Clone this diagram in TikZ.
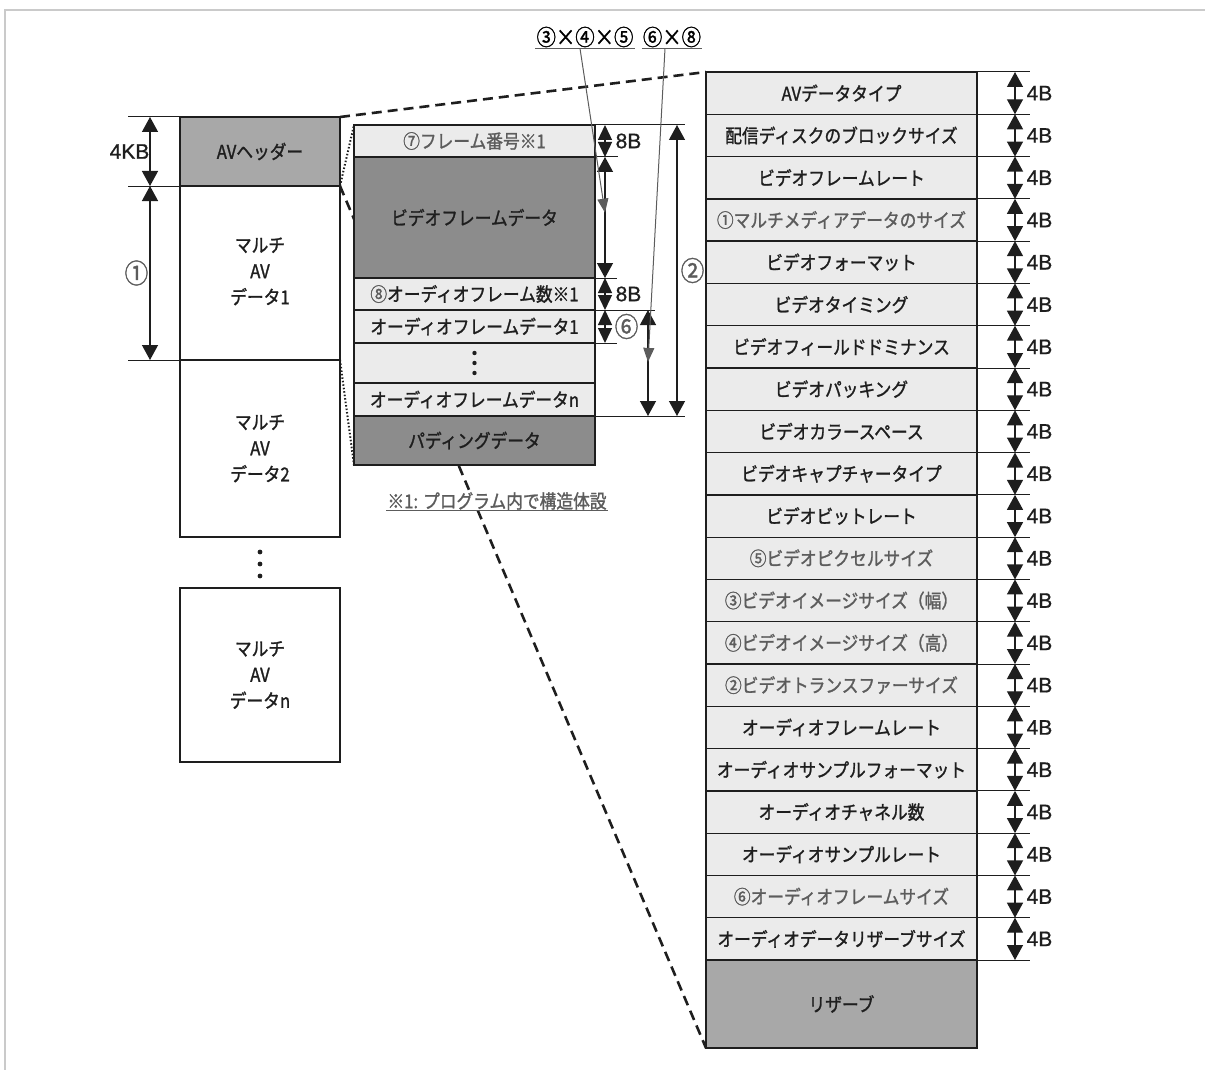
\documentclass[tikz,border=0pt]{standalone}
\usepackage{fontspec}
\setmainfont{Noto Sans CJK JP}[FakeStretch=0.88, FakeBold=1.3]
\newfontfamily\dimfont{Liberation Sans}[FakeBold=0.8]
\usetikzlibrary{arrows.meta, positioning, calc, backgrounds}
\definecolor{avInk}{HTML}{1E1E1E}
\definecolor{avDark}{HTML}{8C8C8C}
\definecolor{avMid}{HTML}{A8A8A8}
\definecolor{avLight}{HTML}{EBEBEB}
\definecolor{avNote}{HTML}{5C5C5C}
\definecolor{avFrame}{HTML}{CACACA}

\tikzset{
  blockbox/.style={draw=avInk, line width=1.3pt, rectangle, inner sep=0pt, outer sep=0pt,
    align=center, text=avInk, minimum width=#1},
  blockbox/.default=241pt,
  fieldbox/.style={blockbox=271pt, fill=avLight, minimum height=42.286pt, anchor=center},
  extline/.style={avInk, line width=1pt},
  dimtip/.style={{Triangle[length=15pt,width=16pt]}-{Triangle[length=15pt,width=16pt]}, avInk, line width=1.3pt},
  diamtip/.style={{Triangle[length=15pt,width=14pt]}-{Triangle[length=15pt,width=14pt]}, avInk, line width=1.3pt},
  pointer/.style={-{Triangle[length=14pt,width=11pt]}, avNote, line width=1pt},
  ulin/.style={avNote, line width=1pt},
  zoomline/.style={avInk, line width=2.6pt, dash pattern=on 10pt off 6pt},
  tieline/.style={avInk, line width=2pt, dash pattern=on 1.5pt off 2pt},
  dimlabel/.style={inner sep=0pt, font=\dimfont\fontsize{21}{21}\selectfont, text=avInk},
  numlabel/.style={inner sep=0pt, font=\fontsize{27}{27}\selectfont, text=avNote}
}

\begin{document}
\begin{tikzpicture}[x=1pt, y=-1pt, font=\fontsize{19}{26}\selectfont]
  \useasboundingbox (0,0) rectangle (1205,1070);
  \draw[avFrame, line width=2pt] (5,1070) -- (5,10) -- (1205,10);

  % left column
  \node[blockbox=160pt, fill=avMid, minimum height=69pt, anchor=north west] (hdr) at (180,117) {AVヘッダー};
  \node[blockbox=160pt, fill=white, minimum height=174pt, below=0pt of hdr] (mav1) {\raisebox{-4pt}{\begin{tabular}{@{}c@{}}マルチ\\AV\\データ1\end{tabular}}};
  \node[blockbox=160pt, fill=white, minimum height=177pt, below=0pt of mav1] (mav2) {マルチ\\AV\\データ2};
  \node[blockbox=160pt, fill=white, minimum height=174pt, below=51pt of mav2] (mavn) {マルチ\\AV\\データn};
  \foreach \d in {15,27,39}
    \fill[avInk] (mav2.south) ++(0,\d) circle (2.4);

  \draw[extline] (hdr.north west) -- ++(-52,0);
  \draw[extline] (hdr.south west) -- ++(-52,0);
  \draw[extline] (mav1.south west) -- ++(-52,0);
  \draw[dimtip] ([xshift=-30pt]hdr.north west) -- ([xshift=-30pt]hdr.south west)
    node[midway, left=0pt, dimlabel] {4KB};
  \draw[dimtip] ([xshift=-30pt]mav1.north west) -- ([xshift=-30pt]mav1.south west)
    node[midway, left=1pt, numlabel] {①};

  % one multi AV data block
  \node[blockbox, fill=avLight, minimum height=32pt, anchor=north west, text=avNote] (frm) at (354,125) {⑦フレーム番号※1};
  \node[blockbox, fill=avDark, minimum height=121pt, below=0pt of frm] (vid) {ビデオフレームデータ};
  \node[blockbox, fill=avLight, minimum height=32pt, below=0pt of vid] (acnt) {{\color{avNote}⑧}オーディオフレーム数※1};
  \node[blockbox, fill=avLight, minimum height=33pt, below=0pt of acnt] (aud1) {オーディオフレームデータ1};
  \node[blockbox, fill=avLight, minimum height=40pt, below=0pt of aud1] (adots) {};
  \node[blockbox, fill=avLight, minimum height=33pt, below=0pt of adots] (audn) {オーディオフレームデータn};
  \node[blockbox, fill=avDark, minimum height=49pt, below=0pt of audn] (pad) {パディングデータ};
  \foreach \d in {-10,0,10}
    \fill[avInk] (adots.center) ++(0,\d) circle (2.2);

  \draw[extline] (frm.north east) -- ++(90,0);
  \draw[extline] (frm.south east) -- ++(23,0);
  \draw[extline] (vid.south east) -- ++(22,0);
  \draw[extline] (acnt.south east) -- ++(60,0);
  \draw[extline] (aud1.south east) -- ++(22,0);
  \draw[extline] (audn.south east) -- ++(90,0);
  \draw[diamtip] ([xshift=10pt]frm.north east) -- ([xshift=10pt]frm.south east)
    node[midway, right=10pt, dimlabel] {8B};
  \draw[dimtip] ([xshift=10pt]vid.north east) -- ([xshift=10pt]vid.south east)
    coordinate[pos=0.46] (vidp);
  \draw[diamtip] ([xshift=10pt]acnt.north east) -- ([xshift=10pt]acnt.south east)
    node[midway, right=10pt, dimlabel] {8B};
  \draw[diamtip] ([xshift=10pt]aud1.north east) -- ([xshift=10pt]aud1.south east)
    node[midway, right=9pt, numlabel] {⑥};
  \draw[dimtip] ([xshift=53pt]aud1.north east) -- ([xshift=53pt]audn.south east)
    coordinate[pos=0.49] (audp);
  \draw[dimtip] ([xshift=82pt]frm.north east) -- ([xshift=82pt]audn.south east)
    node[midway, right=3pt, numlabel] {②};

  \node[inner sep=1pt, font=\fontsize{22}{22}\selectfont] (prodA) at (585,37) {③×④×⑤};
  \node[inner sep=1pt, font=\fontsize{22}{22}\selectfont] (prodB) at (672,37) {⑥×⑧};
  \draw[ulin] (prodA.south west) -- (prodA.south east);
  \draw[ulin] (prodB.south west) -- (prodB.south east);
  \draw[pointer] ([xshift=-5pt]prodA.south) -- (vidp);
  \draw[pointer] ([xshift=-7pt]prodB.south) -- (audp);

  \node[fill=white, inner sep=1pt, text=avNote] (note) at (497,501) {※1: プログラム内で構造体設};
  \draw[ulin] (note.south west) -- (note.south east);

  % AV header fields
  \foreach \txt/\tc [count=\i] in {
      AVデータタイプ/avInk, 配信ディスクのブロックサイズ/avInk, ビデオフレームレート/avInk,
      ①マルチメディアデータのサイズ/avNote, ビデオフォーマット/avInk, ビデオタイミング/avInk,
      ビデオフィールドドミナンス/avInk, ビデオパッキング/avInk, ビデオカラースペース/avInk,
      ビデオキャプチャータイプ/avInk, ビデオビットレート/avInk, ⑤ビデオピクセルサイズ/avNote,
      ③ビデオイメージサイズ（幅）/avNote, ④ビデオイメージサイズ（高）/avNote,
      ②ビデオトランスファーサイズ/avNote, オーディオフレームレート/avInk,
      オーディオサンプルフォーマット/avInk, オーディオチャネル数/avInk,
      オーディオサンプルレート/avInk, ⑥オーディオフレームサイズ/avNote,
      オーディオデータリザーブサイズ/avInk} {
    \node[fieldbox, text=\tc] (f\i) at (841.5, 72+\i*42.286-21.143) {\txt};
    \draw[extline] (f\i.north east) -- ++(53,0);
    \draw[dimtip] ([xshift=38pt]f\i.north east) -- ([xshift=38pt]f\i.south east)
      node[midway, right=11pt, dimlabel] {4B};
  }
  \draw[extline] (f21.south east) -- ++(53,0);
  \node[blockbox=271pt, fill=avMid, minimum height=88pt, below=0pt of f21] (resv) {リザーブ};

  \begin{scope}[on background layer]
    \draw[zoomline] (hdr.north east) -- (f1.north west);
    \draw[zoomline] (hdr.south east) -- (resv.south west);
    \draw[tieline] (mav1.north east) -- (frm.north west);
    \draw[tieline] (mav1.south east) -- (pad.south west);
  \end{scope}
\end{tikzpicture}
\end{document}
